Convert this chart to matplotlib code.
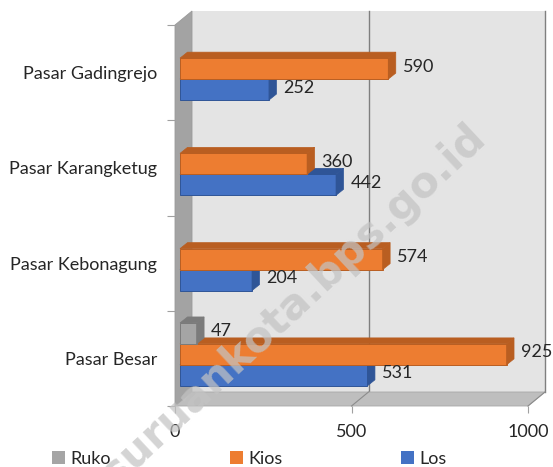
import numpy as np
import matplotlib
matplotlib.use('Agg')
import matplotlib.pyplot as plt
from matplotlib.patches import Polygon, Patch

# Données (de bas en haut)
categories = ['Pasar Besar', 'Pasar Kebonagung', 'Pasar Karangketug', 'Pasar Gadingrejo']
ruko = [47, np.nan, np.nan, np.nan]
kios = [925, 574, 360, 590]
los = [531, 204, 442, 252]
xticks = [0, 500, 1000]

# Couleurs (face avant, faces de profondeur)
series = [
    ('Los', los, '#4472C4', '#2F5597', -0.22),
    ('Kios', kios, '#ED7D31', '#B95E21', 0.0),
    ('Ruko', ruko, '#A5A5A5', '#7B7B7B', 0.22),
]

plt.rcParams['font.family'] = ['Lato', 'DejaVu Sans']

W, H = 553, 467
fig = plt.figure(figsize=(W / 100, H / 100), dpi=100)
ax_left, ax_right, ax_top, ax_bottom = 175, 528, 25, 406
ax = fig.add_axes([ax_left / W, 1 - ax_bottom / H,
                   (ax_right - ax_left) / W, (ax_bottom - ax_top) / H])
ax.set_xlim(0, 1000)
ax.set_ylim(-0.5, 3.5)

# pixels -> unités de données
px_x = 1000 / (ax_right - ax_left)
px_y = 4 / (ax_bottom - ax_top)

def depth(dx_px, dy_px):
    return dx_px * px_x, dy_px * px_y

# Murs et sol
WX, WY = depth(17, 14)
ax.add_patch(Polygon([(WX, -0.5 + WY), (1000 + WX, -0.5 + WY), (1000 + WX, 3.5 + WY), (WX, 3.5 + WY)],
                     closed=True, facecolor='#E4E4E4', edgecolor='none', clip_on=False, zorder=0))
ax.add_patch(Polygon([(0, -0.5), (0, 3.5), (WX, 3.5 + WY), (WX, -0.5 + WY)],
                     closed=True, facecolor='#A3A3A3', edgecolor='#9A9A9A', lw=0.6, clip_on=False, zorder=1))
ax.add_patch(Polygon([(0, -0.5), (1000, -0.5), (1000 + WX, -0.5 + WY), (WX, -0.5 + WY)],
                     closed=True, facecolor='#BEBEBE', edgecolor='#A8A8A8', lw=0.6, clip_on=False, zorder=1))
for t in xticks[1:]:
    ax.plot([t + WX, t + WX], [-0.5 + WY, 3.5 + WY], color='#7F7F7F', lw=1.0, clip_on=False, zorder=0.5)
    ax.plot([t, t + WX], [-0.5, -0.5 + WY], color='#8C8C8C', lw=0.8, clip_on=False, zorder=1.5)

# Barres 3D
BX, BY = depth(5, 4)
DX, DY = depth(7.5, 6)
h = 0.22
y = np.arange(len(categories))
for name, vals, c_front, c_dark, off in series:
    for yi, v in zip(y, vals):
        if np.isnan(v):
            continue
        yc = yi + off + BY
        yb, yt = yc - h / 2, yc + h / 2
        x0, x1 = BX, BX + v
        ax.barh(yc, v, left=x0, height=h, color=c_front, edgecolor=c_dark, lw=0.7, zorder=3)
        ax.add_patch(Polygon([(x0, yt), (x1, yt), (x1 + DX, yt + DY), (x0 + DX, yt + DY)],
                             closed=True, facecolor=c_dark, edgecolor=c_dark, lw=0.5, zorder=3))
        ax.add_patch(Polygon([(x1, yb), (x1, yt), (x1 + DX, yt + DY), (x1 + DX, yb + DY)],
                             closed=True, facecolor=c_dark, edgecolor=c_dark, lw=0.5, zorder=3))
        ax.annotate(f'{v:.0f}', (x1 + DX, yc), xytext=(7, 2), textcoords='offset pixels',
                    ha='left', va='center', fontsize=13, color='#262626', zorder=5)

# Axes
for s in ax.spines.values():
    s.set_visible(False)
ax.set_yticks(y)
ax.set_yticklabels(categories, fontsize=13, color='#262626')
ax.set_yticks(np.arange(-0.5, 4, 1), minor=True)
ax.tick_params(axis='y', which='major', length=0, pad=13)
ax.tick_params(axis='y', which='minor', length=6, color='#A0A0A0', width=0.8)
ax.set_xticks(xticks)
ax.set_xticklabels([str(t) for t in xticks], fontsize=13, color='#262626')
ax.tick_params(axis='x', length=5, color='#A0A0A0', width=0.8, pad=8)

# Légende
handles = [Patch(facecolor=c, edgecolor='none') for c in ['#A5A5A5', '#ED7D31', '#4472C4']]
fig.legend(handles, ['Ruko', 'Kios', 'Los'], loc='center', bbox_to_anchor=(0.451, 1 - 459 / H),
           ncol=3, frameon=False, fontsize=13, handlelength=0.7, handleheight=0.7,
           handletextpad=0.3, columnspacing=6.6, labelcolor='#262626')

# Filigrane
fig.text(272 / W, 1 - 324 / H, 'pasuruankota.bps.go.id', rotation=43, ha='center', va='center',
         fontsize=30.5, fontweight='bold', family='DejaVu Sans', color='#C3C3C3', alpha=0.72, zorder=10)

fig.savefig('out.png', dpi=100)
